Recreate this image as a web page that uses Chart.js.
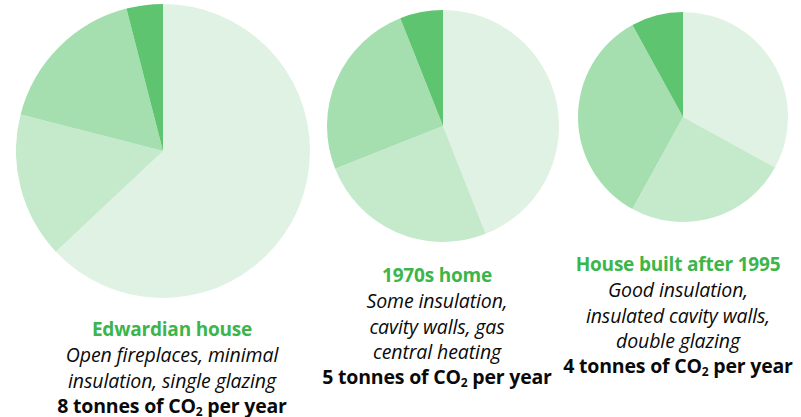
<!DOCTYPE html>
<html>
<head>
<meta charset="utf-8">
<script src="https://cdn.jsdelivr.net/npm/chart.js@4"></script>
<style>
  html, body { margin: 0; padding: 0; background: #fff; }
  body { width: 801px; height: 417px; position: relative; overflow: hidden; font-family: "Open Sans", sans-serif; }
  .pie { position: absolute; }
  .lbl { position: absolute; text-align: center; transform: translateX(-50%); white-space: nowrap; color: #0a0a0a; }
  .lbl div { height: 25.3px; line-height: 25.3px; }
  .t { color: #3cb54a; font-weight: bold; font-size: 19px; letter-spacing: -0.2px; }
  .d { font-style: italic; font-size: 19.5px; letter-spacing: -0.1px; }
  .b { font-weight: bold; font-size: 19.5px; letter-spacing: -0.2px; }
  sub { font-size: 12px; vertical-align: -3px; line-height: 0; }
</style>
</head>
<body>
<div class="pie" style="left:16px;top:4px;width:294px;height:294px"><canvas id="c0"></canvas></div>
<div class="pie" style="left:327px;top:10px;width:232px;height:232px"><canvas id="c1"></canvas></div>
<div class="pie" style="left:578px;top:12px;width:210px;height:210px"><canvas id="c2"></canvas></div>

<div class="lbl" style="left:172px;top:317px">
  <div class="t">Edwardian house</div>
  <div class="d">Open fireplaces, minimal</div>
  <div class="d">insulation, single glazing</div>
  <div class="b">8 tonnes of CO<sub>2</sub> per year</div>
</div>
<div class="lbl" style="left:437px;top:263px">
  <div class="t">1970s home</div>
  <div class="d">Some insulation,</div>
  <div class="d">cavity walls, gas</div>
  <div class="d">central heating</div>
  <div class="b">5 tonnes of CO<sub>2</sub> per year</div>
</div>
<div class="lbl" style="left:678px;top:252px">
  <div class="t">House built after 1995</div>
  <div class="d">Good insulation,</div>
  <div class="d">insulated cavity walls,</div>
  <div class="d">double glazing</div>
  <div class="b">4 tonnes of CO<sub>2</sub> per year</div>
</div>

<script>
const houses = ['Edwardian house', '1970s home', 'House built after 1995'];
const segments = ['Share A', 'Share B', 'Share C', 'Share D'];
const edwardianValues = [63, 16, 17, 4];
const seventiesValues = [44, 25, 25, 6];
const modernValues = [33, 25, 34, 8];
const segmentColors = ['#e0f2e3', '#c5eacb', '#a5dfb0', '#5fc46f'];

const allValues = [edwardianValues, seventiesValues, modernValues];
allValues.forEach((vals, i) => {
  new Chart(document.getElementById('c' + i), {
    type: 'pie',
    data: {
      labels: segments,
      datasets: [{ label: houses[i], data: vals, backgroundColor: segmentColors, borderWidth: 0 }]
    },
    options: {
      responsive: true,
      maintainAspectRatio: false,
      animation: false,
      layout: { padding: 0 },
      plugins: { legend: { display: false }, tooltip: { enabled: false }, title: { display: false } }
    }
  });
});
</script>
</body>
</html>
